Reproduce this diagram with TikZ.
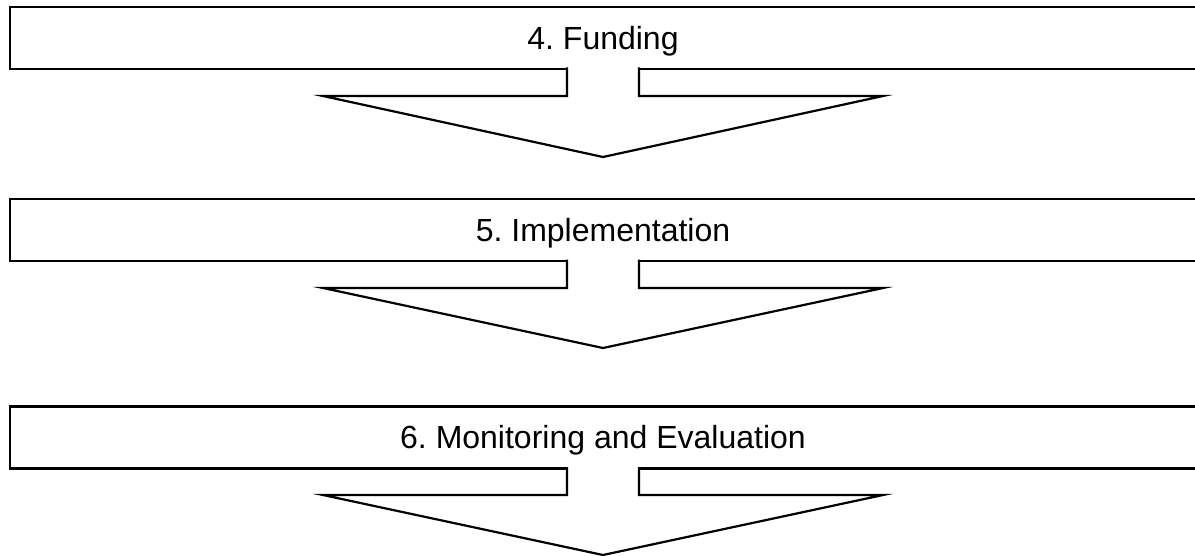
\documentclass[tikz,border=0pt]{standalone}
\usepackage{fontspec}
\setmainfont{Liberation Sans}
\frenchspacing

\begin{document}
\begin{tikzpicture}[x=0.5pt,y=-0.5pt,
    stage/.style={draw,line width=1.25pt,minimum width=593pt,minimum height=31pt,
      inner sep=0pt,text height=11.4pt,text depth=0pt,font=\fontsize{16}{19}\selectfont},
    downarrow/.style={draw,fill=white,line width=1.1pt,line join=miter}]
      \useasboundingbox (0,0) rectangle (1195,556);
      \clip (0,0) rectangle (1195,556);

      \node (funding) [stage] at (603,38) {4. Funding};
      \node (implement) [stage] at (603,230) {5. Implementation};
      \node (monitor) [stage] at (603,437.5) {6. Monitoring and Evaluation};

      \draw [downarrow] (567,67.5) -- (567,96) -- (323,96) -- (603,157) -- (883,96) -- (639,96) -- (639,67.5);
      \draw [downarrow] (567,259.5) -- (567,288) -- (323,288) -- (603,348) -- (883,288) -- (639,288) -- (639,259.5);
      \draw [downarrow] (567,467) -- (567,495) -- (323,495) -- (603,555) -- (883,495) -- (639,495) -- (639,467);

\end{tikzpicture}
\end{document}
